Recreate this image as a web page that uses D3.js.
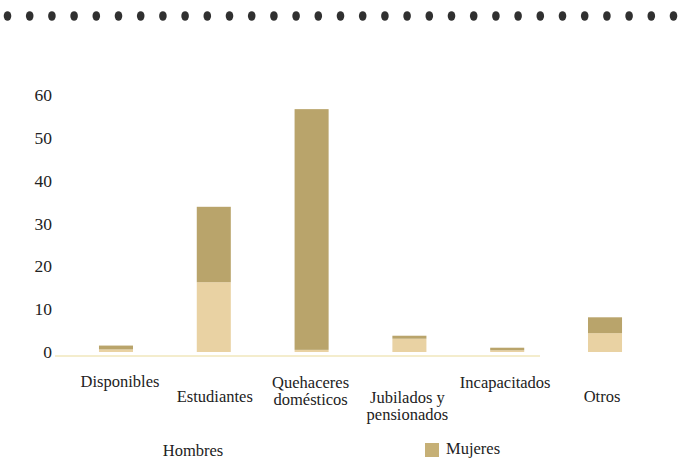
<!DOCTYPE html>
<html lang="es">
<head>
<meta charset="utf-8">
<script src="https://cdn.jsdelivr.net/npm/d3@7/dist/d3.min.js"></script>
<style>
  html, body { margin: 0; padding: 0; background: #ffffff; }
  svg { display: block; }
  svg text { font-family: "Liberation Serif", "DejaVu Serif", serif; fill: #222222; }
</style>
</head>
<body>
<svg id="chart" width="681" height="461"></svg>
<script>
// Población económicamente inactiva por tipo de inactividad y sexo (%)
const categories = ["Disponibles", "Estudiantes", "Quehaceres domésticos",
                    "Jubilados y pensionados", "Incapacitados", "Otros"];
const categoryLines = [["Disponibles"], ["Estudiantes"], ["Quehaceres", "domésticos"],
                       ["Jubilados y", "pensionados"], ["Incapacitados"], ["Otros"]];
const hombres = [0.6, 16.3, 0.5, 3.1, 0.4, 4.4];
const mujeres = [0.9, 17.6, 56.2, 0.7, 0.6, 3.7];
const seriesNames = ["Hombres", "Mujeres"];
const yTicks = [0, 10, 20, 30, 40, 50, 60];

const FONT = "Liberation Serif, serif";
const svg = d3.select("#chart");

// decorative dotted rule across the top
const dotX = d3.scaleLinear().domain([0, 30]).range([7.5, 673.5]);
svg.append("g").selectAll("ellipse")
  .data(d3.range(31))
  .join("ellipse")
  .attr("cx", d => dotX(d))
  .attr("cy", 16)
  .attr("rx", 3.8)
  .attr("ry", 4.8)
  .attr("fill", "#303030");

const x = d3.scaleBand()
  .domain(categories)
  .range([53, 668])
  .paddingInner(0.652)
  .paddingOuter(0.47);

const y = d3.scaleLinear().domain([0, 60]).range([352, 95]);

const table = categories.map((c, i) => ({ cat: c, Hombres: hombres[i], Mujeres: mujeres[i] }));
const stacked = d3.stack().keys(seriesNames)(table);
const colors = { Hombres: "#e9d2a3", Mujeres: "#b9a46b" };

// faint baseline
svg.append("line")
  .attr("x1", 55).attr("x2", 540)
  .attr("y1", y(0) + 4).attr("y2", y(0) + 4)
  .attr("stroke", "#f1e7bd").attr("stroke-width", 1.5);

svg.append("g").selectAll("g")
  .data(stacked)
  .join("g")
  .attr("fill", d => colors[d.key])
  .selectAll("rect")
  .data(d => d)
  .join("rect")
  .attr("x", d => x(d.data.cat))
  .attr("width", x.bandwidth())
  .attr("y", d => y(d[1]))
  .attr("height", d => y(d[0]) - y(d[1]));

// y axis: labels only
const yAxis = d3.axisLeft(y).tickValues(yTicks).tickSize(0).tickPadding(0);
const gy = svg.append("g").attr("transform", "translate(52,0)").call(yAxis)
  .attr("font-family", FONT).attr("font-size", 17.5);
gy.select(".domain").remove();
gy.selectAll("text")
  .attr("fill", "#222222")
  .attr("dy", "0.32em");

// category labels, staggered in two rows
const labelTop = [381, 396, 382, 397, 382, 396];
const labelShift = [4, 1, -1, -2, -2, -3];
const gl = svg.append("g").attr("font-family", FONT).attr("font-size", 16.5);
categoryLines.forEach((lines, i) => {
  const cx = x(categories[i]) + x.bandwidth() / 2 + labelShift[i];
  const t = gl.append("text")
    .attr("text-anchor", "middle")
    .attr("x", cx)
    .attr("y", labelTop[i]);
  lines.forEach((ln, k) => {
    t.append("tspan")
      .attr("x", cx)
      .attr("dy", k === 0 ? "0.35em" : "1.05em")
      .text(ln);
  });
});

// legend
const legend = svg.append("g").attr("font-family", FONT).attr("font-size", 16.5);
legend.append("text")
  .attr("x", 193).attr("y", 450).attr("dy", "0.35em")
  .attr("text-anchor", "middle")
  .text(seriesNames[0]);
legend.append("rect")
  .attr("x", 425).attr("y", 443).attr("width", 14).attr("height", 14)
  .attr("fill", "#c6b076");
legend.append("text")
  .attr("x", 446).attr("y", 448).attr("dy", "0.35em")
  .attr("text-anchor", "start")
  .text(seriesNames[1]);
</script>
</body>
</html>
